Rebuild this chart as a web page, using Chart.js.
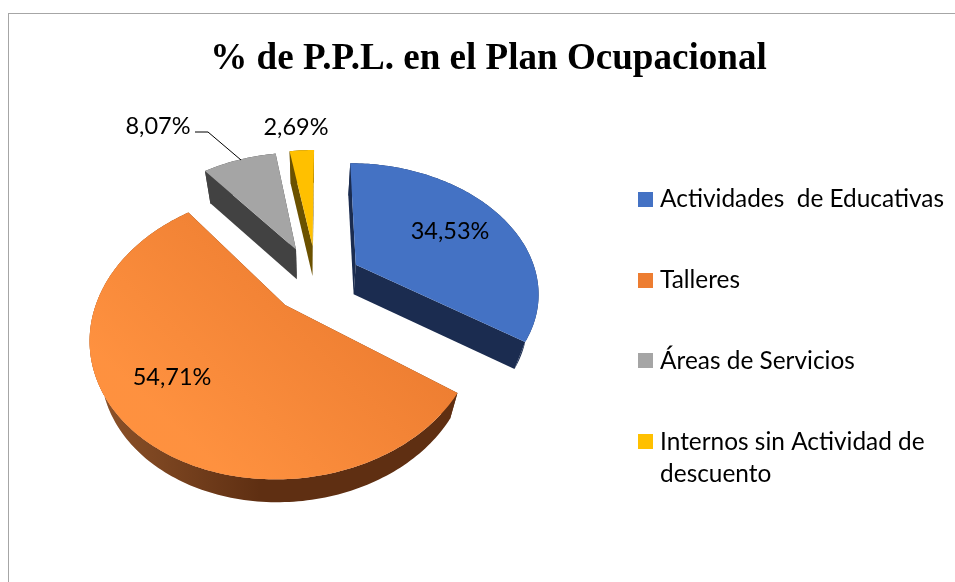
<!DOCTYPE html>
<html>
<head>
<meta charset="utf-8">
<title>% de P.P.L. en el Plan Ocupacional</title>
<script src="https://cdn.jsdelivr.net/npm/chart.js@4"></script>
<style>
    html, body { margin: 0; padding: 0; background: #fff; overflow: hidden; }
    #frame { position: absolute; left: 8px; top: 13px; width: 960px; height: 600px; border: 1px solid #a6a6a6; }
    #chart { position: absolute; left: 0; top: 0; }
</style>
</head>
<body>
<div id="frame"></div>
<canvas id="chart" width="955" height="582"></canvas>
<script>
const categories = ['Actividades  de Educativas', 'Talleres', 'Áreas de Servicios', ['Internos sin Actividad de', 'descuento']];
const shares = [34.53, 54.71, 8.07, 2.69];
const shareLabels = ['34,53%', '54,71%', '8,07%', '2,69%'];
const topColors = ['#4472c4', '#ed7d31', '#a5a5a5', '#ffc000'];
const wallColors = ['#1b2c50', '#5f2f12', '#424242', '#6b5100'];

// tilted view of the pie: angles come from the chart's arcs, only the projection is ours
const view = { cx: 322, cy: 276, a: 181, b: 126, k: 0.2, drop: 29, vanishX: 312 };
const explodeU = [0.19, -0.195, -0.15, -0.055];
const explodeV = [-0.09, 0.22, -0.22, -0.25];
const labelSpots = [[450, 231], [172, 377], [158, 126], [296, 127]];

const project = (u, v) => {
    const w = 1 - view.k * v;
    return [view.cx + view.a * u / w, view.cy + view.b * v / w];
};
const lower = ([x, y]) => [view.vanishX + (x - view.vanishX) * 0.95, view.cy + (y - view.cy) * 0.97 + view.drop];

const fillPath = (ctx, pts, style) => {
    ctx.beginPath();
    pts.forEach(([x, y], i) => (i ? ctx.lineTo(x, y) : ctx.moveTo(x, y)));
    ctx.closePath();
    ctx.fillStyle = style;
    ctx.fill();
};

// legend swatch as a small canvas, so the text can sit closer than the default gap
const swatch = (color) => {
    const c = document.createElement('canvas');
    c.width = 15;
    c.height = 15;
    const g = c.getContext('2d');
    g.fillStyle = color;
    g.fillRect(0, 0, 15, 15);
    return c;
};

const tiltedPie = {
    id: 'tiltedPie',
    beforeDatasetsDraw(chart) {
        const ctx = chart.ctx;
        const arcs = chart.getDatasetMeta(0).data;
        ctx.save();
        arcs.forEach((arc, i) => {
            const start = arc.startAngle + Math.PI / 2;
            const end = arc.endAngle + Math.PI / 2;
            const ou = explodeU[i];
            const ov = explodeV[i];
            const rim = [];
            const steps = Math.ceil((end - start) / 0.02);
            for (let s = 0; s <= steps; s++) {
                const t = start + (end - start) * s / steps;
                rim.push(project(ou + Math.sin(t), ov - Math.cos(t)));
            }
            const apex = project(ou, ov);
            const top = [apex, ...rim];
            const bottom = top.map(lower);
            const rimWall = [...rim, ...bottom.slice(1).reverse()];
            const isOrange = topColors[i] === '#ed7d31';

            // walls first, the top face then hides whatever faces away
            fillPath(ctx, [apex, rim[0], bottom[1], bottom[0]], wallColors[i]);
            fillPath(ctx, [apex, rim[rim.length - 1], bottom[bottom.length - 1], bottom[0]], wallColors[i]);
            fillPath(ctx, rimWall, wallColors[i]);
            if (isOrange) {
                const wallLight = ctx.createLinearGradient(105, 0, 260, 0);
                wallLight.addColorStop(0, 'rgba(255,170,100,0.28)');
                wallLight.addColorStop(1, 'rgba(255,170,100,0)');
                fillPath(ctx, rimWall, wallLight);
            }

            fillPath(ctx, top, topColors[i]);
            if (isOrange) {
                const topLight = ctx.createLinearGradient(220, 470, 380, 300);
                topLight.addColorStop(0, 'rgba(255,146,64,0.95)');
                topLight.addColorStop(1, 'rgba(255,146,64,0)');
                fillPath(ctx, top, topLight);
            }
        });

        // leader line of the grey slice
        ctx.strokeStyle = '#000';
        ctx.lineWidth = 1;
        ctx.beginPath();
        ctx.moveTo(195, 132);
        ctx.lineTo(208, 132);
        ctx.lineTo(241, 160);
        ctx.stroke();

        ctx.fillStyle = '#000';
        ctx.font = '23.5px Lato';
        ctx.textAlign = 'center';
        ctx.textBaseline = 'middle';
        shareLabels.forEach((text, i) => ctx.fillText(text, labelSpots[i][0], labelSpots[i][1]));
        ctx.restore();
        return false;
    }
};

new Chart(document.getElementById('chart'), {
    type: 'pie',
    data: {
        labels: categories,
        datasets: [{ data: shares, backgroundColor: topColors, borderWidth: 0 }]
    },
    options: {
        responsive: false,
        animation: false,
        layout: { padding: { left: 23, right: 1, top: 37 } },
        plugins: {
            title: {
                display: true,
                text: '% de P.P.L. en el Plan Ocupacional',
                color: '#000',
                font: { family: 'Liberation Serif', size: 37.1, weight: 'bold' },
                padding: { top: 0, bottom: 18 }
            },
            legend: {
                position: 'right',
                fullSize: false,
                labels: {
                    color: '#000',
                    boxWidth: 15,
                    boxHeight: 15,
                    padding: 56.5,
                    usePointStyle: true,
                    pointStyleWidth: 5,
                    font: { family: 'Lato', size: 24.4, lineHeight: 1.33 },
                    generateLabels(chart) {
                        const items = Chart.overrides.pie.plugins.legend.labels.generateLabels(chart);
                        items.forEach((item, i) => { item.pointStyle = swatch(topColors[i]); });
                        return items;
                    }
                }
            },
            tooltip: { enabled: false }
        }
    },
    plugins: [tiltedPie]
});
</script>
</body>
</html>
